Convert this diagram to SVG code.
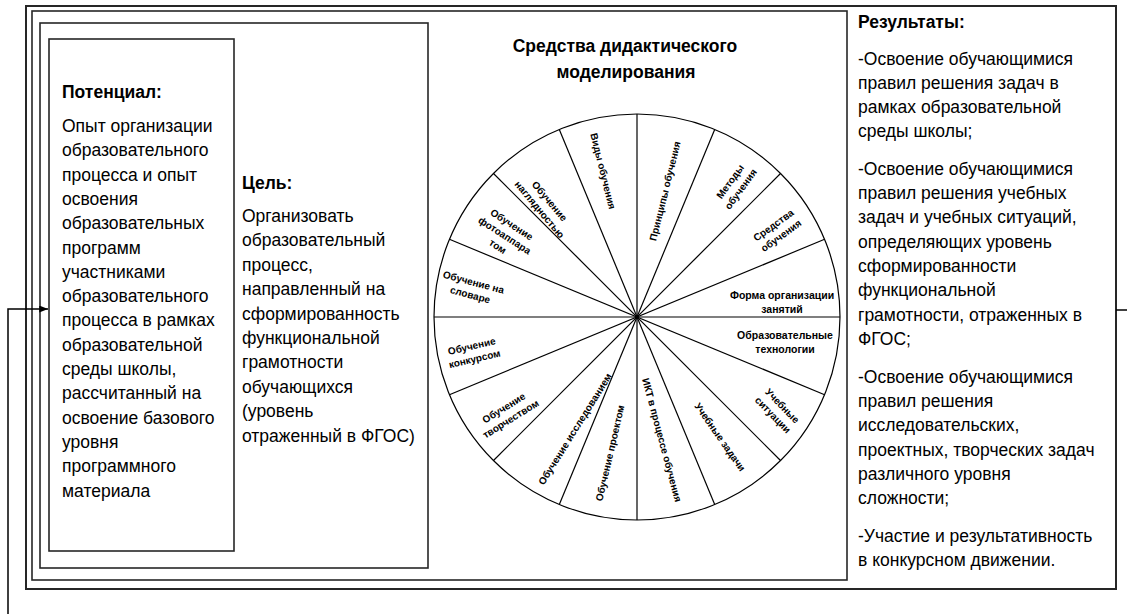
<svg xmlns="http://www.w3.org/2000/svg" width="1127" height="614" viewBox="0 0 1127 614">
<style>
.box{fill:none;stroke:#262626;stroke-width:1.6}
.outer{fill:none;stroke:#262626;stroke-width:2}
.t{font-family:"Liberation Sans",Arial,sans-serif;font-size:17.5px;fill:#000}
.b{font-weight:bold}
.w{font-family:"Liberation Sans",Arial,sans-serif;font-size:10px;font-weight:bold;text-anchor:middle;fill:#000}
.wh{font-family:"Liberation Sans",Arial,sans-serif;font-size:10.5px;font-weight:bold;text-anchor:middle;fill:#000}
.spoke{stroke:#000;stroke-width:1.2;fill:none}
.conn{stroke:#000;stroke-width:1.5;fill:none}
</style>
<defs>
<marker id="arr" viewBox="0 0 10 8" refX="10" refY="4" markerWidth="9" markerHeight="7" markerUnits="userSpaceOnUse" orient="auto">
<path d="M0,0 L10,4 L0,8 z" fill="#000"/>
</marker>
</defs>
<rect width="1127" height="614" fill="#fff"/>

<g id="frame-outer">
<rect class="outer" x="26" y="6" width="1090" height="583"/>
</g>
<g id="frame-middle">
<rect class="box" x="32" y="11" width="815" height="569"/>
</g>

<g id="results">
<text class="t b" x="858" y="28">Результаты:</text>
<text class="t" x="858">
<tspan x="858" y="65">-Освоение обучающимися</tspan>
<tspan x="858" y="89">правил решения задач в</tspan>
<tspan x="858" y="113">рамках образовательной</tspan>
<tspan x="858" y="137">среды школы;</tspan>
<tspan x="858" y="175">-Освоение обучающимися</tspan>
<tspan x="858" y="199">правил решения учебных</tspan>
<tspan x="858" y="223">задач и учебных ситуаций,</tspan>
<tspan x="858" y="248">определяющих уровень</tspan>
<tspan x="858" y="272">сформированности</tspan>
<tspan x="858" y="296">функциональной</tspan>
<tspan x="858" y="321">грамотности, отраженных в</tspan>
<tspan x="858" y="345">ФГОС;</tspan>
<tspan x="858" y="383">-Освоение обучающимися</tspan>
<tspan x="858" y="407">правил решения</tspan>
<tspan x="858" y="431">исследовательских,</tspan>
<tspan x="858" y="456">проектных, творческих задач</tspan>
<tspan x="858" y="480">различного уровня</tspan>
<tspan x="858" y="504">сложности;</tspan>
<tspan x="858" y="542">-Участие и результативность</tspan>
<tspan x="858" y="566">в конкурсном движении.</tspan>
</text>
</g>

<g id="goal">
<rect class="box" x="40" y="23" width="388" height="545"/>
<text class="t b" x="242" y="189">Цель:</text>
<text class="t">
<tspan x="242" y="222">Организовать</tspan>
<tspan x="242" y="246.4">образовательный</tspan>
<tspan x="242" y="270.8">процесс,</tspan>
<tspan x="242" y="295.2">направленный на</tspan>
<tspan x="242" y="319.6">сформированность</tspan>
<tspan x="242" y="344">функциональной</tspan>
<tspan x="242" y="368.4">грамотности</tspan>
<tspan x="242" y="392.8">обучающихся</tspan>
<tspan x="242" y="417.2">(уровень</tspan>
<tspan x="242" y="441.6">отраженный в ФГОС)</tspan>
</text>
</g>

<g id="potential">
<rect class="box" x="49" y="39" width="185" height="512"/>
<text class="t b" x="62" y="98">Потенциал:</text>
<text class="t">
<tspan x="62" y="132">Опыт организации</tspan>
<tspan x="62" y="156.3">образовательного</tspan>
<tspan x="62" y="180.6">процесса и опыт</tspan>
<tspan x="62" y="204.9">освоения</tspan>
<tspan x="62" y="229.2">образовательных</tspan>
<tspan x="62" y="253.5">программ</tspan>
<tspan x="62" y="277.8">участниками</tspan>
<tspan x="62" y="302.1">образовательного</tspan>
<tspan x="62" y="326.4">процесса в рамках</tspan>
<tspan x="62" y="350.7">образовательной</tspan>
<tspan x="62" y="375">среды школы,</tspan>
<tspan x="62" y="399.3">рассчитанный на</tspan>
<tspan x="62" y="423.6">освоение базового</tspan>
<tspan x="62" y="447.9">уровня</tspan>
<tspan x="62" y="472.2">программного</tspan>
<tspan x="62" y="496.5">материала</tspan>
</text>
</g>

<g id="wheel">
<text class="t b" text-anchor="middle" x="625" y="52">Средства дидактического</text>
<text class="t b" text-anchor="middle" x="626" y="78">моделирования</text>
<circle class="spoke" cx="637" cy="317" r="203"/>
<line class="spoke" x1="637" y1="114" x2="637" y2="520"/>
<line class="spoke" x1="714.7" y1="129.4" x2="559.3" y2="504.6"/>
<line class="spoke" x1="780.5" y1="173.5" x2="493.5" y2="460.5"/>
<line class="spoke" x1="824.6" y1="239.3" x2="449.4" y2="394.7"/>
<line class="spoke" x1="840" y1="317" x2="434" y2="317"/>
<line class="spoke" x1="824.6" y1="394.7" x2="449.4" y2="239.3"/>
<line class="spoke" x1="780.5" y1="460.5" x2="493.5" y2="173.5"/>
<line class="spoke" x1="714.7" y1="504.6" x2="559.3" y2="129.4"/>

<g id="s-principles"><text class="w" transform="translate(665,191) rotate(-76)" y="3.5">Принципы обучения</text></g>
<g id="s-methods"><text class="w" transform="translate(735,185) rotate(-54)"><tspan x="0" y="-2.5">Методы</tspan><tspan x="0" y="10.5">обучения</tspan></text></g>
<g id="s-means"><text class="w" transform="translate(777,230) rotate(-36)"><tspan x="0" y="-2.5">Средства</tspan><tspan x="0" y="10.5">обучения</tspan></text></g>
<g id="s-form"><text class="wh" transform="translate(782,302)"><tspan x="0" y="-3">Форма организации</tspan><tspan x="0" y="11">занятий</tspan></text></g>
<g id="s-tech"><text class="wh" transform="translate(785,342)"><tspan x="0" y="-3">Образовательные</tspan><tspan x="0" y="11">технологии</tspan></text></g>
<g id="s-situations"><text class="w" transform="translate(778,410) rotate(46)"><tspan x="0" y="-2.5">Учебные</tspan><tspan x="0" y="10.5">ситуации</tspan></text></g>
<g id="s-tasks"><text class="w" transform="translate(720,437) rotate(55)" y="3.5">Учебные задачи</text></g>
<g id="s-ict"><text class="w" transform="translate(662,440) rotate(75)" y="3.5">ИКТ в процессе обучения</text></g>
<g id="s-project"><text class="w" transform="translate(610,453) rotate(-77)" y="3.5">Обучение проектом</text></g>
<g id="s-research"><text class="w" transform="translate(575,429) rotate(-58)" y="3.5">Обучение исследованием</text></g>
<g id="s-creativity"><text class="w" transform="translate(507,413) rotate(-32)"><tspan x="0" y="-2.5">Обучение</tspan><tspan x="0" y="10.5">творчеством</tspan></text></g>
<g id="s-contest"><text class="w" transform="translate(473,352) rotate(-13)"><tspan x="0" y="-2.5">Обучение</tspan><tspan x="0" y="10.5">конкурсом</tspan></text></g>
<g id="s-dictionary"><text class="w" transform="translate(472,288) rotate(15)"><tspan x="0" y="-2.5">Обучение на</tspan><tspan x="0" y="10.5">словаре</tspan></text></g>
<g id="s-camera"><text class="w" transform="translate(505,235) rotate(33)"><tspan x="0" y="-9">Обучение</tspan><tspan x="0" y="4">фотоаппара</tspan><tspan x="0" y="17">том</tspan></text></g>
<g id="s-visual"><text class="w" transform="translate(545,205) rotate(50)"><tspan x="0" y="-2.5">Обучение</tspan><tspan x="0" y="10.5">наглядностью</tspan></text></g>
<g id="s-types"><text class="w" transform="translate(603,171) rotate(76)" y="3.5">Виды обучения</text></g>
</g>

<g id="connectors">
<path class="conn" d="M8,614 V309 H48" marker-end="url(#arr)"/>
<line class="conn" x1="1116" y1="310" x2="1127" y2="310"/>
</g>
</svg>
